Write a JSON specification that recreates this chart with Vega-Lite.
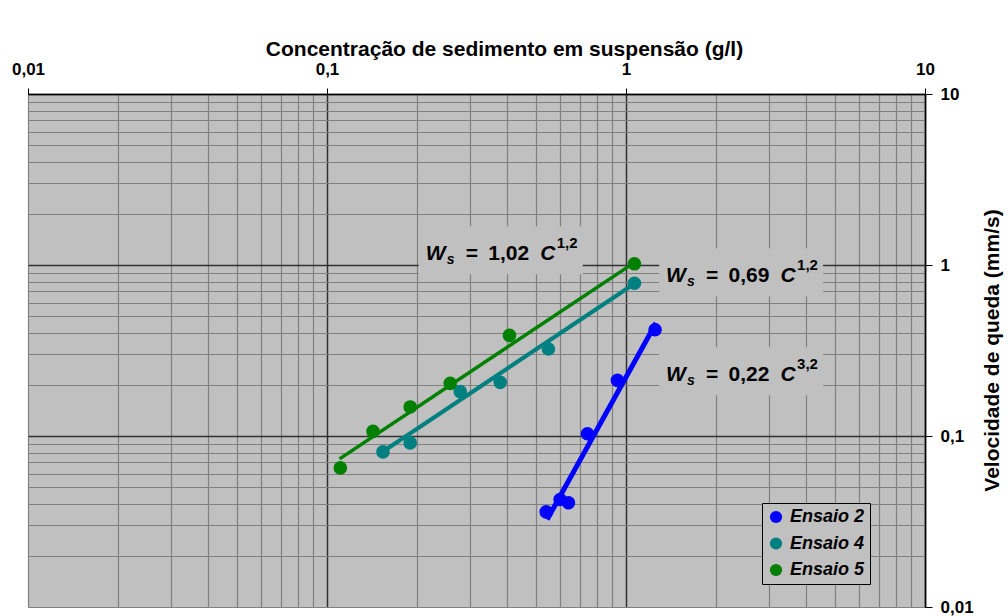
{
  "$schema": "https://vega.github.io/schema/vega-lite/v6.json",
  "width": 897,
  "height": 513,
  "autosize": {"type": "none"},
  "padding": {"left": 28, "top": 94, "right": 83, "bottom": 9},
  "background": "white",
  "config": {
    "view": {"fill": "#C0C0C0", "stroke": null},
    "font": "Liberation Sans"
  },
  "datasets": {
    "ensaios": [
      {"serie": "Ensaio 2", "C": 0.541, "W": 0.036},
      {"serie": "Ensaio 2", "C": 0.602, "W": 0.0425},
      {"serie": "Ensaio 2", "C": 0.642, "W": 0.0407},
      {"serie": "Ensaio 2", "C": 0.743, "W": 0.103},
      {"serie": "Ensaio 2", "C": 0.936, "W": 0.2115},
      {"serie": "Ensaio 2", "C": 1.251, "W": 0.418},
      {"serie": "Ensaio 4", "C": 0.1539, "W": 0.0807},
      {"serie": "Ensaio 4", "C": 0.1898, "W": 0.0911},
      {"serie": "Ensaio 4", "C": 0.279, "W": 0.1817},
      {"serie": "Ensaio 4", "C": 0.3796, "W": 0.2059},
      {"serie": "Ensaio 4", "C": 0.5502, "W": 0.3227},
      {"serie": "Ensaio 4", "C": 1.067, "W": 0.782},
      {"serie": "Ensaio 5", "C": 0.1108, "W": 0.0651},
      {"serie": "Ensaio 5", "C": 0.1425, "W": 0.1065},
      {"serie": "Ensaio 5", "C": 0.1898, "W": 0.1479},
      {"serie": "Ensaio 5", "C": 0.2583, "W": 0.2032},
      {"serie": "Ensaio 5", "C": 0.4076, "W": 0.3876},
      {"serie": "Ensaio 5", "C": 1.067, "W": 1.016}
    ],
    "ajustes": [
      {"curva": "Ajuste 2", "C": 0.545, "W": 0.0325},
      {"curva": "Ajuste 2", "C": 1.26, "W": 0.458},
      {"curva": "Ajuste 4", "C": 0.1535, "W": 0.081},
      {"curva": "Ajuste 4", "C": 1.054, "W": 0.766},
      {"curva": "Ajuste 5", "C": 0.1102, "W": 0.0735},
      {"curva": "Ajuste 5", "C": 1.06, "W": 1.026}
    ],
    "equacoes": [
      {"C": 0.381, "W": 1.219, "coef": "1,02", "exp": "1,2"},
      {"C": 2.426, "W": 0.906, "coef": "0,69", "exp": "1,2"},
      {"C": 2.426, "W": 0.2393, "coef": "0,22", "exp": "3,2"}
    ]
  },
  "encoding": {
    "x": {
      "field": "C",
      "type": "quantitative",
      "scale": {"type": "log", "domain": [0.01, 10], "nice": false},
      "axis": {
        "orient": "top",
        "title": "Concentração de sedimento em suspensão (g/l)",
        "titleFontSize": 21,
        "titleFontWeight": "bold",
        "titleColor": "black",
        "titleX": 476,
        "titleY": -39,
        "titleAlign": "center",
        "titleBaseline": "alphabetic",
        "values": [0.01, 0.02, 0.03, 0.04, 0.05, 0.06, 0.07, 0.08, 0.09, 0.1, 0.2, 0.3, 0.4, 0.5, 0.6, 0.7, 0.8, 0.9, 1, 2, 3, 4, 5, 6, 7, 8, 9, 10],
        "labelExpr": "datum.value == 0.01 ? '0,01' : datum.value == 0.1 ? '0,1' : datum.value == 1 ? '1' : datum.value == 10 ? '10' : ''",
        "labelFlush": false,
        "labelOverlap": false,
        "labelBound": false,
        "labelFontSize": 17,
        "labelFontWeight": "bold",
        "labelColor": "black",
        "labelPadding": 10,
        "tickSize": 6,
        "tickWidth": 1,
        "tickColor": {"condition": {"test": "datum.value == 0.01 || datum.value == 0.1 || datum.value == 1 || datum.value == 10", "value": "black"}, "value": "transparent"},
        "domainColor": "black",
        "domainWidth": 1.5,
        "grid": true,
        "gridOpacity": 1,
        "gridColor": {"condition": {"test": "datum.value == 0.1 || datum.value == 1 || datum.value == 10", "value": "#303030"}, "value": "#808080"},
        "gridWidth": {"condition": {"test": "datum.value == 0.1 || datum.value == 1 || datum.value == 10", "value": 1.5}, "value": 1.2}
      }
    },
    "y": {
      "field": "W",
      "type": "quantitative",
      "scale": {"type": "log", "domain": [0.01, 10], "nice": false},
      "axis": {
        "orient": "right",
        "title": "Velocidade de queda (mm/s)",
        "titleFontSize": 21,
        "titleFontWeight": "bold",
        "titleColor": "black",
        "titleAngle": 270,
        "titleAlign": "center",
        "titleBaseline": "alphabetic",
        "titleX": 73,
        "titleY": 256,
        "values": [0.01, 0.02, 0.03, 0.04, 0.05, 0.06, 0.07, 0.08, 0.09, 0.1, 0.2, 0.3, 0.4, 0.5, 0.6, 0.7, 0.8, 0.9, 1, 2, 3, 4, 5, 6, 7, 8, 9, 10],
        "labelExpr": "datum.value == 0.01 ? '0,01' : datum.value == 0.1 ? '0,1' : datum.value == 1 ? '1' : datum.value == 10 ? '10' : ''",
        "labelFlush": false,
        "labelOverlap": false,
        "labelBound": false,
        "labelFontSize": 17,
        "labelFontWeight": "bold",
        "labelColor": "black",
        "labelPadding": 8,
        "tickSize": 7,
        "tickWidth": 1,
        "tickColor": {"condition": {"test": "datum.value == 0.01 || datum.value == 0.1 || datum.value == 1 || datum.value == 10", "value": "black"}, "value": "transparent"},
        "domainColor": "black",
        "domainWidth": 1.5,
        "grid": true,
        "gridOpacity": 1,
        "gridColor": {"condition": {"test": "datum.value == 0.1 || datum.value == 1 || datum.value == 10", "value": "#303030"}, "value": "#808080"},
        "gridWidth": {"condition": {"test": "datum.value == 0.1 || datum.value == 1 || datum.value == 10", "value": 1.5}, "value": 1.2}
      }
    }
  },
  "layer": [
    {
      "data": {"name": "equacoes"},
      "mark": {"type": "point", "shape": "M-1,-0.293L1,-0.293L1,0.293L-1,0.293Z", "filled": true, "fill": "#C0C0C0", "strokeWidth": 0, "opacity": 1, "size": 26896}
    },
    {
      "data": {"name": "ajustes"},
      "mark": {"type": "line", "strokeCap": "butt"},
      "encoding": {
        "stroke": {"field": "curva", "type": "nominal", "scale": {"domain": ["Ajuste 2", "Ajuste 4", "Ajuste 5"], "range": ["#0000FF", "#008080", "#008000"]}, "legend": null},
        "strokeWidth": {"field": "curva", "type": "nominal", "scale": {"domain": ["Ajuste 2", "Ajuste 4", "Ajuste 5"], "range": [5, 3.5, 3.5]}, "legend": null}
      }
    },
    {
      "data": {"name": "ensaios"},
      "mark": {"type": "point", "filled": true, "size": 185, "opacity": 1, "strokeWidth": 0},
      "encoding": {
        "fill": {
          "field": "serie",
          "type": "nominal",
          "scale": {"domain": ["Ensaio 2", "Ensaio 4", "Ensaio 5"], "range": ["#0000FF", "#008080", "#008000"]},
          "legend": {
            "orient": "none",
            "legendX": 734,
            "legendY": 409,
            "title": null,
            "fillColor": "#C0C0C0",
            "strokeColor": "black",
            "padding": 5,
            "labelFontSize": 18,
            "labelFontWeight": "bold",
            "labelFontStyle": "italic",
            "labelColor": "black",
            "labelOffset": 5,
            "symbolType": "circle",
            "symbolSize": 150,
            "symbolStrokeWidth": 0,
            "symbolOpacity": 1,
            "rowPadding": 8.5
          }
        }
      }
    },
    {
      "data": {"name": "equacoes"},
      "mark": {"type": "text", "text": "W", "dx": -75, "dy": 10, "align": "left", "baseline": "alphabetic", "fontSize": 21, "fontWeight": "bold", "fontStyle": "italic", "color": "black"}
    },
    {
      "data": {"name": "equacoes"},
      "mark": {"type": "text", "text": "s", "dx": -54, "dy": 14, "align": "left", "baseline": "alphabetic", "fontSize": 14, "fontWeight": "bold", "fontStyle": "italic", "color": "black"}
    },
    {
      "data": {"name": "equacoes"},
      "mark": {"type": "text", "text": "=", "dx": -35, "dy": 10, "align": "left", "baseline": "alphabetic", "fontSize": 21, "fontWeight": "bold", "color": "black"}
    },
    {
      "data": {"name": "equacoes"},
      "mark": {"type": "text", "dx": -12.5, "dy": 10, "align": "left", "baseline": "alphabetic", "fontSize": 21, "fontWeight": "bold", "color": "black"},
      "encoding": {"text": {"field": "coef", "type": "nominal"}}
    },
    {
      "data": {"name": "equacoes"},
      "mark": {"type": "text", "text": "C", "dx": 39.5, "dy": 10, "align": "left", "baseline": "alphabetic", "fontSize": 21, "fontWeight": "bold", "fontStyle": "italic", "color": "black"}
    },
    {
      "data": {"name": "equacoes"},
      "mark": {"type": "text", "dx": 56, "dy": -2.5, "align": "left", "baseline": "alphabetic", "fontSize": 15, "fontWeight": "bold", "color": "black"},
      "encoding": {"text": {"field": "exp", "type": "nominal"}}
    }
  ]
}
